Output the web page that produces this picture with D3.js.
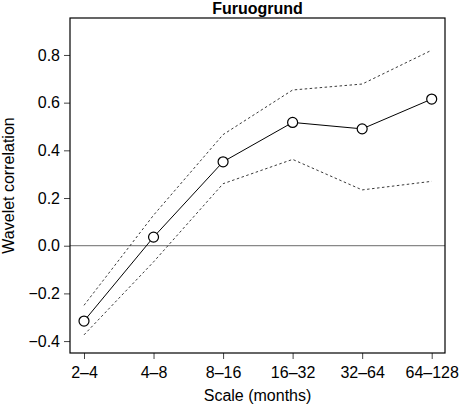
<!DOCTYPE html>
<html lang="en">
    <head>
        <meta charset="utf-8">
        <title>Furuogrund</title>
        <script type="text/javascript" src="https://cdn.jsdelivr.net/npm/d3@7"></script>
        <style>
            body { margin: 0; background: #fff; }
            text { font-family: "Liberation Sans", Arial, sans-serif; }
        </style>
    </head>
    <body>
        <script type="text/javascript">
            //Width and height
            var w = 459;
            var h = 406;
            var margin = { top: 18, right: 14, bottom: 53, left: 70 };

            //data
            var scales = ["2\u20134", "4\u20138", "8\u201316", "16\u201332", "32\u201364", "64\u2013128"];
            var correlation = [-0.316, 0.036, 0.352, 0.517, 0.49, 0.615];
            var upper = [-0.25, 0.128, 0.466, 0.653, 0.678, 0.82];
            var lower = [-0.374, -0.068, 0.26, 0.362, 0.234, 0.27];
            var yTicks = [-0.4, -0.2, 0.0, 0.2, 0.4, 0.6, 0.8];

            var svg = d3.select("body").append("svg").attr("width", w).attr("height", h);

            var x = d3.scalePoint()
                .domain(scales)
                .range([84, 431.7]);

            var y = d3.scaleLinear()
                .domain([-0.45, 0.955])
                .range([h - margin.bottom, margin.top]);

            //x axis
            var xAxis = svg.append("g")
                .attr("transform", "translate(0," + (h - margin.bottom) + ")")
                .call(d3.axisBottom(x).tickSize(6).tickPadding(8));
            xAxis.select(".domain").remove();

            //y axis
            var yAxis = svg.append("g")
                .attr("transform", "translate(" + margin.left + ",0)")
                .call(d3.axisLeft(y).tickValues(yTicks).tickSize(6).tickPadding(4)
                    .tickFormat(function(d) {
                        return d3.format(".1f")(d).replace("-", "\u2212");
                    }));
            yAxis.select(".domain").remove();

            svg.selectAll(".tick line").attr("stroke", "#444").attr("stroke-width", 1);
            svg.selectAll(".tick text")
                .attr("font-size", "16px")
                .attr("fill", "#000")
                .style("font-family", "'Liberation Sans', Arial, sans-serif");

            //zero line
            svg.append("line")
                .attr("x1", margin.left).attr("x2", w - margin.right)
                .attr("y1", y(0)).attr("y2", y(0))
                .attr("stroke", "#888")
                .attr("stroke-width", 1.2);

            //box
            svg.append("rect")
                .attr("x", margin.left)
                .attr("y", margin.top)
                .attr("width", w - margin.right - margin.left)
                .attr("height", h - margin.bottom - margin.top)
                .attr("fill", "none")
                .attr("stroke", "#000")
                .attr("stroke-width", 1.2);

            var line = d3.line()
                .x(function(d, i) { return x(scales[i]); })
                .y(function(d) { return y(d); });

            //confidence bounds
            [upper, lower].forEach(function(series) {
                svg.append("path")
                    .datum(series)
                    .attr("d", line)
                    .attr("fill", "none")
                    .attr("stroke", "#222")
                    .attr("stroke-width", 0.9)
                    .attr("stroke-dasharray", "2.5,2.5");
            });

            svg.append("path")
                .datum(correlation)
                .attr("d", line)
                .attr("fill", "none")
                .attr("stroke", "#000")
                .attr("stroke-width", 1);

            svg.selectAll("circle")
                .data(correlation)
                .enter()
                .append("circle")
                .attr("cx", function(d, i) { return x(scales[i]); })
                .attr("cy", function(d) { return y(d); })
                .attr("r", 5)
                .attr("fill", "#fff")
                .attr("stroke", "#000")
                .attr("stroke-width", 1.2);

            //title and labels
            svg.append("text")
                .text("Furuogrund")
                .attr("x", (margin.left + w - margin.right) / 2)
                .attr("y", 14)
                .attr("text-anchor", "middle")
                .attr("font-size", "16px")
                .attr("font-weight", "bold");

            svg.append("text")
                .text("Scale (months)")
                .attr("x", (margin.left + w - margin.right) / 2)
                .attr("y", 401)
                .attr("text-anchor", "middle")
                .attr("font-size", "16px");

            svg.append("text")
                .text("Wavelet correlation")
                .attr("transform", "translate(14," + ((margin.top + h - margin.bottom) / 2) + ") rotate(-90)")
                .attr("text-anchor", "middle")
                .attr("font-size", "16px");
        </script>
    </body>
</html>
